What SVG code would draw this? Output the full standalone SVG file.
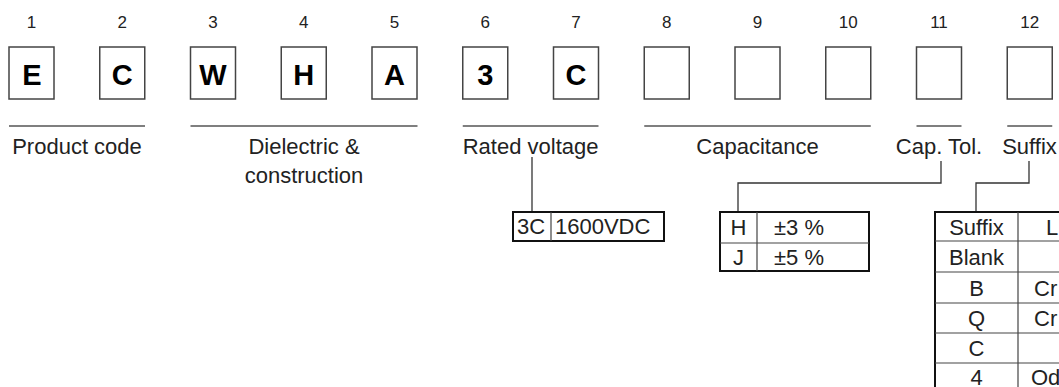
<svg xmlns="http://www.w3.org/2000/svg" width="1059" height="387" viewBox="0 0 1059 387">
<style>
  text { font-family: "Liberation Sans", Arial, Helvetica, sans-serif; fill: #222; }
  .num { font-size: 17px; text-anchor: middle; }
  .code { font-size: 29px; font-weight: bold; text-anchor: middle; fill: #000; }
  .lbl { font-size: 22px; text-anchor: middle; }
  .cell { font-size: 22px; }
  .mid { text-anchor: middle; }
  .box { fill: #fff; stroke: #444; stroke-width: 1.5; }
  .under { stroke: #555; stroke-width: 1.5; fill: none; }
  .conn { stroke: #333; stroke-width: 1.3; fill: none; }
  .outer { fill: #fff; stroke: #111; stroke-width: 2; }
  .inner { stroke: #444; stroke-width: 1.2; fill: none; }
</style>
<g id="digits">
  <text class="num" x="31.5" y="28">1</text>
  <text class="num" x="122.3" y="28">2</text>
  <text class="num" x="213" y="28">3</text>
  <text class="num" x="303.8" y="28">4</text>
  <text class="num" x="394.5" y="28">5</text>
  <text class="num" x="485.3" y="28">6</text>
  <text class="num" x="576" y="28">7</text>
  <text class="num" x="666.8" y="28">8</text>
  <text class="num" x="757.5" y="28">9</text>
  <text class="num" x="848.3" y="28">10</text>
  <text class="num" x="939" y="28">11</text>
  <text class="num" x="1029.8" y="28">12</text>
</g>
<g id="box1"><rect class="box" x="9" y="47" width="45" height="52"/><text class="code" x="32" y="85">E</text></g>
<g id="box2"><rect class="box" x="99.75" y="47" width="45" height="52"/><text class="code" x="122.3" y="85">C</text></g>
<g id="box3"><rect class="box" x="190.5" y="47" width="45" height="52"/><text class="code" x="213" y="85">W</text></g>
<g id="box4"><rect class="box" x="281.25" y="47" width="45" height="52"/><text class="code" x="303.8" y="85">H</text></g>
<g id="box5"><rect class="box" x="372" y="47" width="45" height="52"/><text class="code" x="394.5" y="85">A</text></g>
<g id="box6"><rect class="box" x="462.75" y="47" width="45" height="52"/><text class="code" x="485.3" y="85">3</text></g>
<g id="box7"><rect class="box" x="553.5" y="47" width="45" height="52"/><text class="code" x="576" y="85">C</text></g>
<g id="box8"><rect class="box" x="644.25" y="47" width="45" height="52"/></g>
<g id="box9"><rect class="box" x="735" y="47" width="45" height="52"/></g>
<g id="box10"><rect class="box" x="825.75" y="47" width="45" height="52"/></g>
<g id="box11"><rect class="box" x="916.5" y="47" width="45" height="52"/></g>
<g id="box12"><rect class="box" x="1007.25" y="47" width="45" height="52"/></g>

<g id="label-product">
  <line class="under" x1="9" y1="126" x2="145" y2="126"/>
  <text class="lbl" x="77" y="154">Product code</text>
</g>
<g id="label-dielectric">
  <line class="under" x1="190.5" y1="126" x2="417.5" y2="126"/>
  <text class="lbl" x="304" y="154">Dielectric &amp;</text>
  <text class="lbl" x="304" y="183">construction</text>
</g>
<g id="label-voltage">
  <line class="under" x1="462.75" y1="126" x2="598.5" y2="126"/>
  <text class="lbl" x="530.6" y="154">Rated voltage</text>
</g>
<g id="label-capacitance">
  <line class="under" x1="644.25" y1="126" x2="870.75" y2="126"/>
  <text class="lbl" x="757.5" y="154">Capacitance</text>
</g>
<g id="label-captol">
  <line class="under" x1="916.5" y1="126" x2="961.5" y2="126"/>
  <text class="lbl" x="939" y="154">Cap. Tol.</text>
</g>
<g id="label-suffix">
  <line class="under" x1="1007.25" y1="126" x2="1052.25" y2="126"/>
  <text class="lbl" x="1029.5" y="154">Suffix</text>
</g>

<g id="connectors">
  <polyline class="conn" points="532,157 532,212"/>
  <polyline class="conn" points="941,161 941,183 738,183 738,212"/>
  <polyline class="conn" points="1029,161 1029,183 976,183 976,212"/>
</g>

<g id="table-voltage">
  <rect class="outer" x="513" y="212" width="151" height="29"/>
  <line class="inner" x1="551" y1="212" x2="551" y2="241"/>
  <text class="cell" x="517" y="234">3C</text>
  <text class="cell" x="555" y="234">1600VDC</text>
</g>

<g id="table-tolerance">
  <rect class="outer" x="720" y="212" width="149" height="59"/>
  <line class="inner" x1="757" y1="212" x2="757" y2="271"/>
  <line class="inner" x1="720" y1="243" x2="869" y2="243"/>
  <text class="cell mid" x="738.5" y="235">H</text>
  <text class="cell" x="774" y="235">±3 %</text>
  <text class="cell mid" x="738.5" y="265">J</text>
  <text class="cell" x="774" y="265">±5 %</text>
</g>

<g id="table-suffix">
  <rect class="outer" x="935" y="212" width="160" height="220"/>
  <line class="inner" x1="1018" y1="212" x2="1018" y2="432"/>
  <line class="inner" x1="935" y1="241" x2="1095" y2="241"/>
  <line class="inner" x1="935" y1="272" x2="1095" y2="272"/>
  <line class="inner" x1="935" y1="303" x2="1095" y2="303"/>
  <line class="inner" x1="935" y1="333" x2="1095" y2="333"/>
  <line class="inner" x1="935" y1="363" x2="1095" y2="363"/>
  <text class="cell mid" x="976.5" y="235">Suffix</text>
  <text class="cell" x="1046" y="235">L</text>
  <text class="cell mid" x="976.5" y="265">Blank</text>
  <text class="cell mid" x="976.5" y="296">B</text>
  <text class="cell" x="1034" y="296">Cr</text>
  <text class="cell mid" x="976.5" y="326">Q</text>
  <text class="cell" x="1034" y="326">Cr</text>
  <text class="cell mid" x="976.5" y="356">C</text>
  <text class="cell mid" x="976.5" y="385">4</text>
  <text class="cell" x="1031" y="385">Od</text>
</g>
</svg>
